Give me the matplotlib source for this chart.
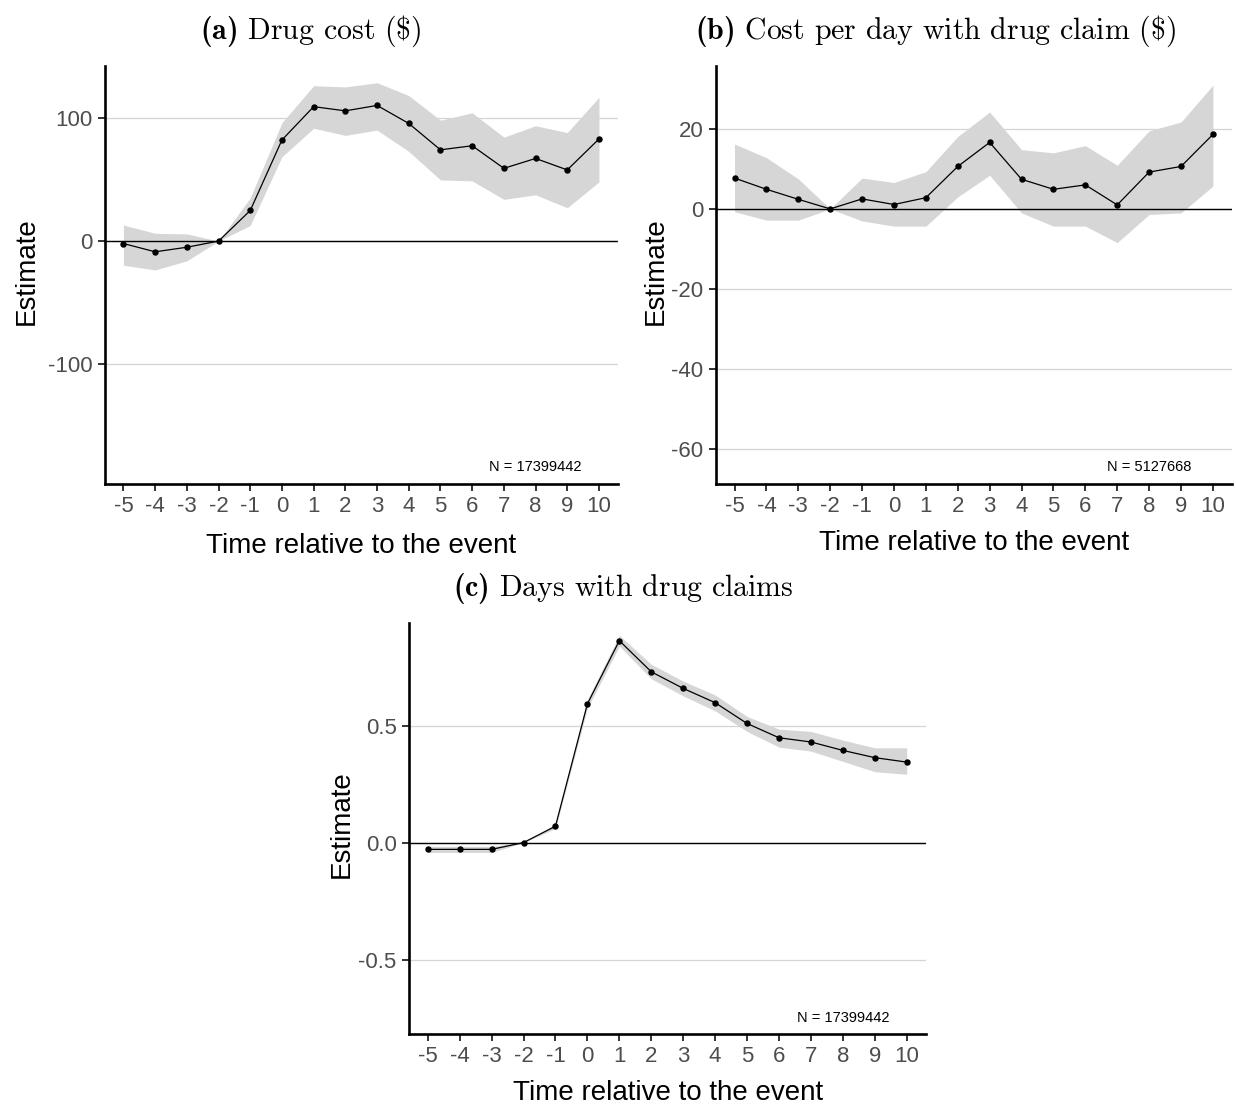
import matplotlib
matplotlib.use("Agg")
import matplotlib.pyplot as plt
import numpy as np

plt.rcParams['font.family'] = ['Liberation Sans', 'DejaVu Sans']
plt.rcParams['mathtext.fontset'] = 'custom'
plt.rcParams['mathtext.rm'] = 'cmr10'
plt.rcParams['mathtext.bf'] = 'cmb10'

# event time
t = np.arange(-5, 11)
tick_labels = [str(v) for v in t]

# (a) Drug cost ($)
a_est = [-2, -8.7, -5, 0, 24.8, 82, 109, 105.6, 110, 95.4, 74, 77.3, 59, 67, 57.7, 82.8]
a_hi = [13, 6.3, 5.8, 0, 35, 96, 126, 125, 128.4, 118, 98, 104, 84.3, 93.5, 88, 116.6]
a_lo = [-19.6, -23.4, -16, 0, 12.7, 68.4, 91.5, 85.7, 90, 72.7, 49.6, 48.8, 33.8, 37.5, 27, 48]

# (b) Cost per day with drug claim ($)
b_est = [7.7, 4.9, 2.4, 0, 2.5, 1.1, 2.8, 10.6, 16.6, 7.4, 4.9, 6.0, 1.0, 9.2, 10.6, 18.6]
b_hi = [16.2, 12.8, 7.5, 0, 7.7, 6.6, 9.3, 18.1, 24.2, 14.8, 14.0, 15.8, 10.9, 19.5, 21.7, 30.9]
b_lo = [-0.7, -2.8, -2.8, 0, -3.0, -4.3, -4.3, 3.0, 8.4, -1.0, -4.3, -4.3, -8.4, -1.4, -1.0, 5.7]

# (c) Days with drug claims
c_est = [-0.029, -0.029, -0.029, 0, 0.07, 0.593, 0.863, 0.730, 0.659, 0.598, 0.509, 0.448, 0.430, 0.394, 0.363, 0.344]
c_hi = [-0.016, -0.016, -0.016, 0, 0.08, 0.612, 0.886, 0.762, 0.690, 0.631, 0.539, 0.485, 0.475, 0.438, 0.405, 0.405]
c_lo = [-0.042, -0.042, -0.042, 0, 0.06, 0.574, 0.840, 0.700, 0.627, 0.563, 0.475, 0.408, 0.391, 0.347, 0.303, 0.292]

panels = [
    dict(est=a_est, hi=a_hi, lo=a_lo, yticks=[-100, 0, 100], ylabels=['-100', '0', '100'],
         ylim=(-197, 142), n_text='N = 17399442', n_y=-183,
         pos=[0.0850, 0.5620, 0.4150, 0.3783], ylab_x=-0.127, xlab_y=-0.118),
    dict(est=b_est, hi=b_hi, lo=b_lo, yticks=[-60, -40, -20, 0, 20],
         ylabels=['-60', '-40', '-20', '0', '20'],
         ylim=(-68.7, 35.7), n_text='N = 5127668', n_y=-64.4,
         pos=[0.5793, 0.5620, 0.4175, 0.3783], ylab_x=-0.091, xlab_y=-0.110),
    dict(est=c_est, hi=c_hi, lo=c_lo, yticks=[-0.5, 0.0, 0.5], ylabels=['-0.5', '0.0', '0.5'],
         ylim=(-0.818, 0.940), n_text='N = 17399442', n_y=-0.749,
         pos=[0.3311, 0.0643, 0.4180, 0.3722], ylab_x=-0.106, xlab_y=-0.112),
]

titles = [
    (r'$\mathbf{(a)}\ \mathrm{Drug\ cost\ (\$)}$', 0.2516, 0.972),
    (r'$\mathbf{(b)}\ \mathrm{Cost\ per\ day\ with\ drug\ claim\ (\$)}$', 0.7565, 0.972),
    (r'$\mathbf{(c)}\ \mathrm{Days\ with\ drug\ claims}$', 0.5040, 0.4675),
]

fig = plt.figure(figsize=(12.36, 11.05), dpi=100)

for p in panels:
    ax = fig.add_axes(p['pos'])
    ax.fill_between(t, p['lo'], p['hi'], color='#d6d6d6', lw=0, zorder=2)
    for yv in p['yticks']:
        ax.axhline(yv, color='#d4d4d4', lw=0.9, zorder=1)
    ax.axhline(0, color='black', lw=1.0, zorder=3)
    ax.plot(t, p['est'], color='black', lw=0.9, marker='o', markersize=3.6, zorder=4)
    ax.text(8, p['n_y'], p['n_text'], ha='center', va='center', fontsize=10.5, color='black')

    ax.set_xlim(-5.58, 10.6)
    ax.set_ylim(*p['ylim'])
    ax.set_xticks(t)
    ax.set_xticklabels(tick_labels)
    ax.set_yticks(p['yticks'])
    ax.set_yticklabels(p['ylabels'])

    for s in ['top', 'right']:
        ax.spines[s].set_visible(False)
    for s in ['left', 'bottom']:
        ax.spines[s].set_linewidth(1.9)
        ax.spines[s].set_color('black')
    ax.tick_params(axis='both', labelsize=16, labelcolor='#4d4d4d', color='#333333',
                   width=1.4, length=5)
    ax.tick_params(axis='x', pad=4)
    ax.tick_params(axis='y', pad=4)

    ax.set_xlabel('Time relative to the event', fontsize=20, color='black')
    ax.set_ylabel('Estimate', fontsize=20, color='black')
    ax.xaxis.set_label_coords(0.5, p['xlab_y'])
    ax.yaxis.set_label_coords(p['ylab_x'], 0.51)

for txt, x, y in titles:
    fig.text(x, y, txt, ha='center', va='center', fontsize=21.5)

fig.savefig('out.png', dpi=100, facecolor='white')
